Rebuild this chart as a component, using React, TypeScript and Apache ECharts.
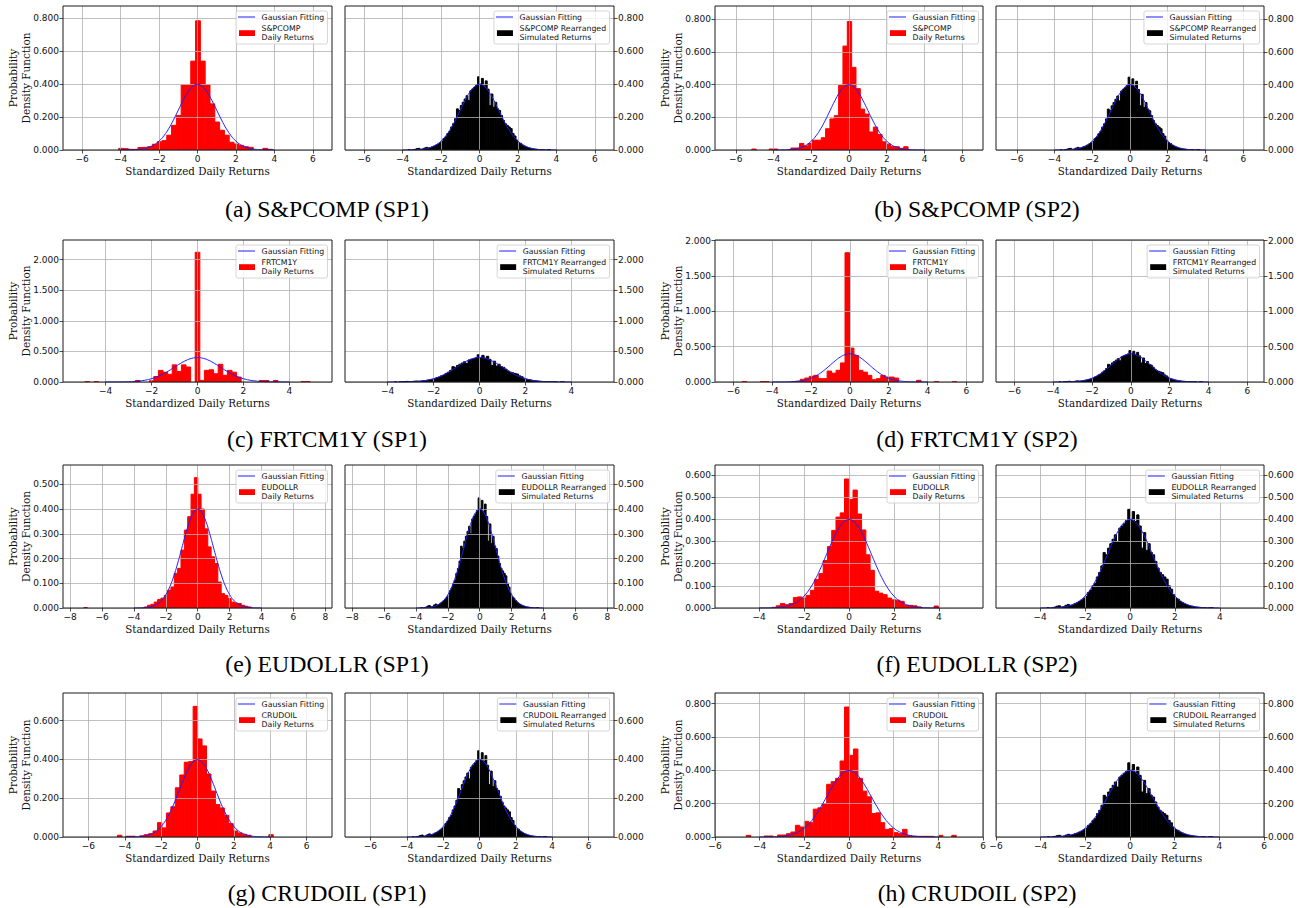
import React, { useEffect, useRef } from "react";
import * as echarts from "echarts";

// ---------- DATA ----------
const ASSETS = ["S&PCOMP", "FRTCM1Y", "EUDOLLR", "CRUDOIL"];
const CAPTION_LETTERS = [["a", "b"], ["c", "d"], ["e", "f"], ["g", "h"]];
const PERIODS = ["SP1", "SP2"];

// Gaussian fitting curve (standard normal), read at 0.25 steps
const GAUSS_X = [-4, -3.75, -3.5, -3.25, -3, -2.75, -2.5, -2.25, -2, -1.75, -1.5, -1.25, -1, -0.75, -0.5, -0.25, 0,
  0.25, 0.5, 0.75, 1, 1.25, 1.5, 1.75, 2, 2.25, 2.5, 2.75, 3, 3.25, 3.5, 3.75, 4];
const GAUSS_PDF = [0.0001, 0.0004, 0.0009, 0.002, 0.0044, 0.0091, 0.0175, 0.0317, 0.054, 0.0863, 0.1295, 0.1826, 0.242,
  0.3011, 0.3521, 0.3867, 0.3989, 0.3867, 0.3521, 0.3011, 0.242, 0.1826, 0.1295, 0.0863, 0.054, 0.0317, 0.0175, 0.0091,
  0.0044, 0.002, 0.0009, 0.0004, 0.0001];

// Daily returns histograms (density per bin)
const SPCOMP_SP1_BIN_START = -4.1;
const SPCOMP_SP1_BIN_WIDTH = 0.25;
const SPCOMP_SP1_DENSITY = [0.01, 0.008, 0.004, 0.004, 0.015, 0.016, 0.02, 0.035, 0.05, 0.057, 0.09, 0.15, 0.21, 0.395,
  0.395, 0.54, 0.785, 0.54, 0.395, 0.28, 0.17, 0.12, 0.09, 0.047, 0.036, 0.028, 0.02, 0.016, 0, 0, 0.01, 0.004];

const SPCOMP_SP2_BIN_START = -5.15;
const SPCOMP_SP2_BIN_WIDTH = 0.23;
const SPCOMP_SP2_DENSITY = [0.006, 0, 0, 0, 0.006, 0.006, 0, 0, 0, 0.012, 0.012, 0.04, 0.025, 0.04, 0.06, 0.06, 0.075,
  0.13, 0.19, 0.21, 0.395, 0.635, 0.785, 0.505, 0.375, 0.25, 0.22, 0.11, 0.14, 0.095, 0.05, 0.036, 0.02, 0.02, 0.01, 0.02];

const FRTCM1Y_SP1_BIN_START = -4.9;
const FRTCM1Y_SP1_BIN_WIDTH = 0.2;
const FRTCM1Y_SP1_DENSITY = [0.005, 0, 0.005, 0, 0, 0, 0, 0, 0, 0, 0, 0.025, 0, 0, 0.02, 0.09, 0.19, 0.16, 0.125, 0.28,
  0.17, 0.28, 0.245, 0, 2.12, 0.027, 0.19, 0.2, 0.135, 0.29, 0.11, 0.19, 0.16, 0.08, 0, 0, 0, 0, 0.025, 0.025, 0, 0.025,
  0, 0, 0, 0, 0, 0.005, 0.005];

const FRTCM1Y_SP2_BIN_START = -5.54;
const FRTCM1Y_SP2_BIN_WIDTH = 0.23;
const FRTCM1Y_SP2_DENSITY = [0.005, 0, 0, 0, 0.004, 0.004, 0, 0, 0, 0, 0, 0.005, 0.01, 0.038, 0.056, 0.08, 0.094, 0.047,
  0.047, 0.155, 0.125, 0.165, 0.27, 1.83, 0.48, 0.376, 0.165, 0.14, 0.094, 0.033, 0.047, 0.094, 0.07, 0.07, 0.056, 0, 0,
  0, 0, 0.024, 0, 0, 0, 0.004, 0, 0, 0, 0.004];

const EUDOLLR_SP1_BIN_START = -7.14;
const EUDOLLR_SP1_BIN_WIDTH = 0.21;
const EUDOLLR_SP1_DENSITY = [0.002, 0, 0, 0, 0, 0, 0, 0, 0, 0, 0, 0, 0, 0, 0, 0, 0, 0, 0.004, 0.011, 0.015, 0.024, 0.034,
  0.04, 0.051, 0.072, 0.085, 0.14, 0.16, 0.234, 0.315, 0.369, 0.46, 0.527, 0.46, 0.4, 0.32, 0.247, 0.207, 0.18, 0.105,
  0.058, 0.051, 0.038, 0.024, 0.02, 0.018, 0.011, 0.007, 0.004];

const EUDOLLR_SP2_BIN_START = -3.43;
const EUDOLLR_SP2_BIN_WIDTH = 0.19;
const EUDOLLR_SP2_DENSITY = [0.003, 0.01, 0.02, 0.015, 0.02, 0.047, 0.05, 0.045, 0.057, 0.08, 0.129, 0.155, 0.214, 0.277,
  0.35, 0.41, 0.429, 0.582, 0.489, 0.532, 0.424, 0.352, 0.24, 0.17, 0.076, 0.067, 0.06, 0.045, 0.037, 0.035, 0.03, 0.012,
  0.012, 0.01, 0.005, 0, 0, 0, 0.009];

const CRUDOIL_SP1_BIN_START = -4.405;
const CRUDOIL_SP1_BIN_WIDTH = 0.245;
const CRUDOIL_SP1_DENSITY = [0.009, 0, 0.004, 0.004, 0, 0.006, 0.012, 0.017, 0.031, 0.074, 0.047, 0.124, 0.156, 0.254,
  0.32, 0.386, 0.389, 0.674, 0.506, 0.47, 0.325, 0.237, 0.168, 0.15, 0.112, 0.069, 0.031, 0.021, 0.014, 0.009, 0, 0, 0,
  0, 0.012];

const CRUDOIL_SP2_BIN_START = -4.6;
const CRUDOIL_SP2_BIN_WIDTH = 0.2;
const CRUDOIL_SP2_DENSITY = [0.01, 0, 0, 0, 0.006, 0.006, 0, 0.012, 0.012, 0.02, 0.03, 0.07, 0.06, 0.094, 0.086, 0.167,
  0.175, 0.2, 0.316, 0.332, 0.352, 0.456, 0.78, 0.49, 0.528, 0.352, 0.275, 0.241, 0.141, 0.145, 0.086, 0.046, 0.05, 0.026,
  0.02, 0.046, 0.008, 0.004, 0.004, 0.004, 0.004, 0.004, 0, 0.01, 0, 0, 0.01];

// Rearranged simulated returns histogram (same shape in every right-hand panel)
const SIMULATED_BIN_START = -3.7;
const SIMULATED_BIN_WIDTH = 0.1;
const SIMULATED_DENSITY = [0.002, 0, 0.002, 0.004, 0.008, 0.01, 0.004, 0.006, 0.012, 0.016, 0.012, 0.014, 0.02, 0.024,
  0.03, 0.036, 0.044, 0.052, 0.07, 0.08, 0.1, 0.112, 0.14, 0.16, 0.19, 0.25, 0.24, 0.27, 0.29, 0.31, 0.33, 0.3, 0.36,
  0.37, 0.38, 0.395, 0.445, 0.4, 0.435, 0.39, 0.42, 0.37, 0.27, 0.34, 0.26, 0.29, 0.25, 0.24, 0.21, 0.18, 0.16, 0.15,
  0.14, 0.13, 0.1, 0.085, 0.06, 0.045, 0.04, 0.03, 0.024, 0.018, 0.014, 0.01, 0.008, 0.006, 0.004, 0.003, 0.002, 0.002,
  0.001, 0, 0.001, 0.002];

const DAILY_HIST = [
  [
    { start: SPCOMP_SP1_BIN_START, width: SPCOMP_SP1_BIN_WIDTH, density: SPCOMP_SP1_DENSITY },
    { start: SPCOMP_SP2_BIN_START, width: SPCOMP_SP2_BIN_WIDTH, density: SPCOMP_SP2_DENSITY },
  ],
  [
    { start: FRTCM1Y_SP1_BIN_START, width: FRTCM1Y_SP1_BIN_WIDTH, density: FRTCM1Y_SP1_DENSITY },
    { start: FRTCM1Y_SP2_BIN_START, width: FRTCM1Y_SP2_BIN_WIDTH, density: FRTCM1Y_SP2_DENSITY },
  ],
  [
    { start: EUDOLLR_SP1_BIN_START, width: EUDOLLR_SP1_BIN_WIDTH, density: EUDOLLR_SP1_DENSITY },
    { start: EUDOLLR_SP2_BIN_START, width: EUDOLLR_SP2_BIN_WIDTH, density: EUDOLLR_SP2_DENSITY },
  ],
  [
    { start: CRUDOIL_SP1_BIN_START, width: CRUDOIL_SP1_BIN_WIDTH, density: CRUDOIL_SP1_DENSITY },
    { start: CRUDOIL_SP2_BIN_START, width: CRUDOIL_SP2_BIN_WIDTH, density: CRUDOIL_SP2_DENSITY },
  ],
];

// Axis ranges and tick labels per [asset][period]
const X_RANGE = [
  [[-7, 7], [-7.1, 7.1]],
  [[-5.85, 5.85], [-6.94, 6.85]],
  [[-8.45, 8.42], [-5.97, 5.97]],
  [[-7.4, 7.4], [-6, 6]],
];
const X_TICKS_6 = [-6, -4, -2, 0, 2, 4, 6];
const X_TICKS_4 = [-4, -2, 0, 2, 4];
const X_TICKS_8 = [-8, -6, -4, -2, 0, 2, 4, 6, 8];
const X_TICKS = [
  [X_TICKS_6, X_TICKS_6],
  [X_TICKS_4, X_TICKS_6],
  [X_TICKS_8, X_TICKS_4],
  [X_TICKS_6, X_TICKS_6],
];
const Y_MAX = [
  [0.875, 0.88],
  [2.32, 2.01],
  [0.578, 0.645],
  [0.743, 0.864],
];
const Y_TICKS = [
  [[0, 0.2, 0.4, 0.6, 0.8], [0, 0.2, 0.4, 0.6, 0.8]],
  [[0, 0.5, 1, 1.5, 2], [0, 0.5, 1, 1.5, 2]],
  [[0, 0.1, 0.2, 0.3, 0.4, 0.5], [0, 0.1, 0.2, 0.3, 0.4, 0.5, 0.6]],
  [[0, 0.2, 0.4, 0.6], [0, 0.2, 0.4, 0.6, 0.8]],
];

// ---------- LAYOUT ----------
const GRID_LEFT = [63, 345, 715, 996];
const GRID_WIDTH = [269, 269, 268, 268];
const GRID_TOP = [6, 240, 465, 693];
const GRID_HEIGHT = [144, 142, 143, 144];
const CAPTION_X = [327, 977];
const CAPTION_Y = [209, 439, 664, 893];

const TICK_FONT = "DejaVu Sans";
const SERIF_FONT = "DejaVu Serif";
const LEGEND_FS = 7.8;

function fmtX(v: number) {
  const r = Math.round(v);
  return r < 0 ? "\u2212" + Math.abs(r) : String(r);
}

function makeBins(start: number, width: number, density: number[]) {
  const out: number[][] = [];
  density.forEach((h, k) => {
    if (h > 0) out.push([start + k * width, start + (k + 1) * width, h]);
  });
  return out;
}

function barRenderer(color: string) {
  return (_params: any, api: any) => {
    const a = api.coord([api.value(0), api.value(2)]);
    const b = api.coord([api.value(1), 0]);
    return {
      type: "rect",
      shape: { x: a[0], y: a[1], width: b[0] - a[0], height: b[1] - a[1] },
      style: { fill: color, stroke: color, lineWidth: 1 },
    };
  };
}

function buildOption() {
  const ctx = document.createElement("canvas").getContext("2d")!;
  const measure = (t: string) => {
    ctx.font = `${LEGEND_FS}px "${TICK_FONT}"`;
    return ctx.measureText(t).width;
  };

  const grids: any[] = [];
  const xAxes: any[] = [];
  const yAxes: any[] = [];
  const series: any[] = [];
  const graphics: any[] = [];
  const gauss = GAUSS_X.map((x, i) => [x, GAUSS_PDF[i]]);

  let idx = 0;
  for (let row = 0; row < 4; row++) {
    for (let period = 0; period < 2; period++) {
      for (let side = 0; side < 2; side++) {
        const col = period * 2 + side;
        const left = GRID_LEFT[col];
        const width = GRID_WIDTH[col];
        const top = GRID_TOP[row];
        const height = GRID_HEIGHT[row];
        const xr = X_RANGE[row][period];
        const xt = X_TICKS[row][period];
        const yt = Y_TICKS[row][period];
        const isSim = side === 1;
        const color = isSim ? "#000000" : "#ff0000";
        const hist = isSim
          ? { start: SIMULATED_BIN_START, width: SIMULATED_BIN_WIDTH, density: SIMULATED_DENSITY }
          : DAILY_HIST[row][period];

        grids.push({
          left, top, width, height, show: true, borderColor: "#1a1a1a", borderWidth: 1, z: 8,
          backgroundColor: "rgba(0,0,0,0)", containLabel: false,
        });
        xAxes.push({
          type: "value", gridIndex: idx, min: xr[0], max: xr[1], z: 5,
          axisLine: { show: false, onZero: false },
          axisTick: { show: true, length: 3.5, inside: false, customValues: xt, lineStyle: { color: "#222", width: 0.8 } },
          axisLabel: { customValues: xt, formatter: fmtX, fontFamily: TICK_FONT, fontSize: 9, color: "#111", margin: 4 },
          splitLine: { show: true, lineStyle: { color: "#b0b0b0", width: 0.8 } },
        });
        yAxes.push({
          type: "value", gridIndex: idx, min: 0, max: Y_MAX[row][period], position: isSim ? "right" : "left", z: 5,
          axisLine: { show: false, onZero: false },
          axisTick: { show: true, length: 3.5, inside: false, customValues: yt, lineStyle: { color: "#222", width: 0.8 } },
          axisLabel: {
            customValues: yt, formatter: (v: number) => v.toFixed(3), fontFamily: TICK_FONT, fontSize: 9,
            color: "#111", margin: 4,
          },
          splitLine: { show: true, lineStyle: { color: "#b0b0b0", width: 0.8 } },
        });
        series.push({
          type: "custom", xAxisIndex: idx, yAxisIndex: idx, z: 1, silent: true, clip: true,
          renderItem: barRenderer(color), encode: { x: [0, 1], y: 2 },
          data: makeBins(hist.start, hist.width, hist.density),
        });
        series.push({
          type: "line", xAxisIndex: idx, yAxisIndex: idx, z: 6, silent: true, data: gauss,
          showSymbol: false, symbol: "none", smooth: true,
          lineStyle: { color: "#1f1fff", width: 1 },
        });

        // axis titles
        graphics.push({
          type: "text", x: left + width / 2, y: top + height + 21, z: 100,
          style: {
            text: "Standardized Daily Returns", fontFamily: SERIF_FONT, fontSize: 10.3, fill: "#111",
            align: "center", verticalAlign: "middle", textAlign: "center", textVerticalAlign: "middle",
          },
        });
        if (!isSim) {
          graphics.push({
            type: "text", x: left - 43.5, y: top + height / 2, rotation: Math.PI / 2, z: 100,
            style: {
              text: "Probability\nDensity Function", fontFamily: SERIF_FONT, fontSize: 10.5, lineHeight: 13,
              fill: "#111", align: "center", verticalAlign: "middle", textAlign: "center", textVerticalAlign: "middle",
            },
          });
        }

        // legend
        const label = isSim ? `${ASSETS[row]} Rearranged\nSimulated Returns` : `${ASSETS[row]}\nDaily Returns`;
        const tw = Math.max(measure("Gaussian Fitting"), ...label.split("\n").map(measure));
        const bw = 25.6 + tw + 3.4;
        const bh = 33;
        const bx = left + width - 4.5 - bw;
        const by = top + 5;
        graphics.push({
          type: "rect", z: 100, shape: { x: bx, y: by, width: bw, height: bh, r: 2 },
          style: { fill: "rgba(255,255,255,0.8)", stroke: "#cccccc", lineWidth: 0.8 },
        });
        graphics.push({
          type: "line", z: 101, shape: { x1: bx + 2, y1: by + 6, x2: bx + 19, y2: by + 6 },
          style: { stroke: "#1f1fff", lineWidth: 1 },
        });
        graphics.push({
          type: "text", z: 101, x: bx + 25.6, y: by + 6,
          style: {
            text: "Gaussian Fitting", fontFamily: TICK_FONT, fontSize: LEGEND_FS, fill: "#111",
            align: "left", verticalAlign: "middle", textAlign: "left", textVerticalAlign: "middle",
          },
        });
        graphics.push({
          type: "rect", z: 101, shape: { x: bx + 3, y: by + 19.2, width: 16, height: 5.8 },
          style: { fill: color },
        });
        graphics.push({
          type: "text", z: 101, x: bx + 25.6, y: by + 21.8,
          style: {
            text: label, fontFamily: TICK_FONT, fontSize: LEGEND_FS, lineHeight: 9, fill: "#111",
            align: "left", verticalAlign: "middle", textAlign: "left", textVerticalAlign: "middle",
          },
        });
        idx++;
      }
      // caption
      graphics.push({
        type: "text", x: CAPTION_X[period], y: CAPTION_Y[row], z: 100,
        style: {
          text: `(${CAPTION_LETTERS[row][period]}) ${ASSETS[row]} (${PERIODS[period]})`,
          fontFamily: "Liberation Serif", fontSize: 23.8, fill: "#000",
          align: "center", verticalAlign: "middle", textAlign: "center", textVerticalAlign: "middle",
        },
      });
    }
  }

  return {
    animation: false,
    backgroundColor: "#ffffff",
    grid: grids,
    xAxis: xAxes,
    yAxis: yAxes,
    series,
    graphic: { elements: graphics },
  };
}

export default function App() {
  const ref = useRef<HTMLDivElement>(null);
  useEffect(() => {
    if (!ref.current) return;
    const chart = echarts.init(ref.current, null, { renderer: "svg" });
    chart.setOption(buildOption() as any);
    return () => chart.dispose();
  }, []);
  return (
    <div
      ref={ref}
      style={{ position: "fixed", left: 0, top: 0, width: 1309, height: 908, background: "#fff" }}
    />
  );
}
